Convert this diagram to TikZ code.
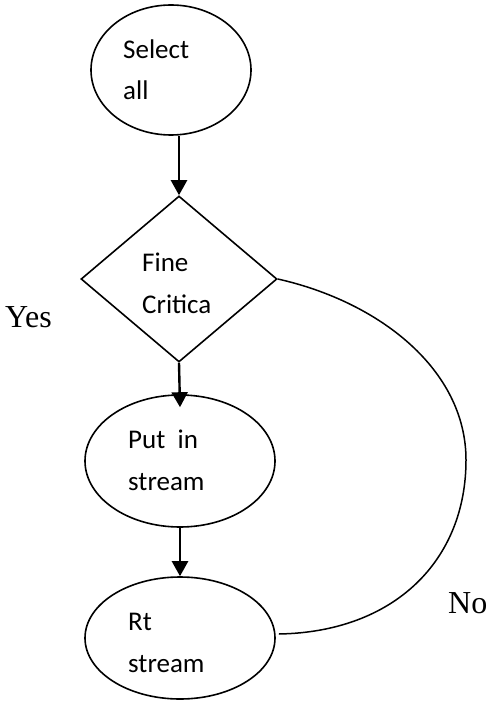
\documentclass[tikz,border=0pt]{standalone}
\usepackage{fontspec}
\setmainfont{Liberation Serif}
\newfontfamily\calibrifont{Carlito}
\usetikzlibrary{shapes.geometric,arrows.meta}

\begin{document}
\begin{tikzpicture}[x=1pt,y=-1pt,
  shapeline/.style={draw=black,line width=1.6pt,inner sep=0pt},
  oval/.style={shapeline,ellipse},
  decision/.style={shapeline,diamond},
  flow/.style={draw=black,line width=2.4pt,-{Triangle[width=16pt,length=15pt]}},
  loopline/.style={draw=black,line width=1.5pt},
  boxtext/.style={anchor=base west,align=left,inner sep=0pt,
    font=\calibrifont\fontsize{27}{41.5}\selectfont},
  edgetext/.style={anchor=base west,inner sep=0pt,font=\fontsize{32}{38}\selectfont}]
  \useasboundingbox (0,0) rectangle (488,703);

  % shapes
  \node[oval,minimum width=160pt,minimum height=130pt] (sel) at (171,70) {};
  \node[decision,minimum width=196pt,minimum height=166pt] (dia) at (179,279) {};
  \node[oval,minimum width=190pt,minimum height=132pt] (put) at (180,461) {};
  \node[oval,minimum width=190pt,minimum height=122pt] (rt) at (180,638) {};

  % labels inside the shapes (anchored at the baseline of the last line)
  \node[boxtext] (selt) at (123,100) {Select\\all};
  \node[boxtext] (diat) at (142,313) {Fine\\Critica};
  \node[boxtext] (putt) at (128,490) {Put~ in\\stream};
  \node[boxtext] (rtt) at (128,672) {Rt\\stream};

  % branch labels
  \node[edgetext] (yes) at (5,327) {Yes};
  \node[edgetext] (no) at (448,613) {No};

  % connectors
  \draw[flow] (dia.north |- sel.south) -- (dia.north);
  \draw[flow] (dia.south) -- ([yshift=-13pt]put.north);
  \draw[flow] (put.south) -- (rt.north);

  % the "No" loop back to the last step
  \coordinate (loopend) at ([xshift=3pt,yshift=4pt]rt.east);
  \draw[loopline] (dia.east) .. controls (380,302) and (466,370) .. (466,460)
    .. controls (466,560) and (395,632) .. (loopend);
\end{tikzpicture}
\end{document}
